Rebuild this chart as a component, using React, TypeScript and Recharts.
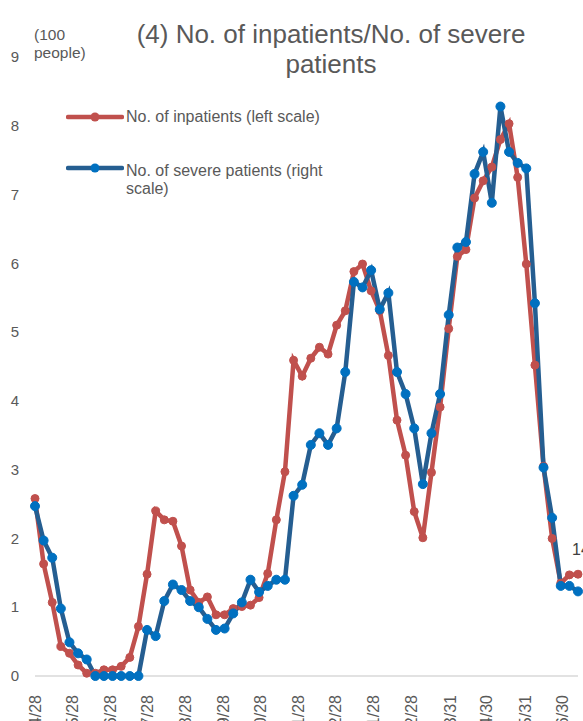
import React from "react";
import {
  LineChart,
  Line,
  XAxis,
  YAxis,
} from "recharts";

// colours
const COLORS = {
  inpatients: "#C0504D",
  severeLine: "#255E91",
  severeDot: "#0070C0",
  text: "#595959",
  axis: "#D9D9D9",
};

const FONT = '"Liberation Sans", Arial, sans-serif';

// weekly reporting dates
const weeks = [
  "2020-04-28", "2020-05-05", "2020-05-12", "2020-05-19", "2020-05-26",
  "2020-06-02", "2020-06-09", "2020-06-16", "2020-06-23", "2020-06-30",
  "2020-07-07", "2020-07-14", "2020-07-21", "2020-07-28", "2020-08-04",
  "2020-08-11", "2020-08-18", "2020-08-25", "2020-09-01", "2020-09-08",
  "2020-09-15", "2020-09-22", "2020-09-29", "2020-10-06", "2020-10-13",
  "2020-10-20", "2020-10-27", "2020-11-03", "2020-11-10", "2020-11-17",
  "2020-11-24", "2020-12-01", "2020-12-08", "2020-12-15", "2020-12-22",
  "2020-12-29", "2021-01-05", "2021-01-12", "2021-01-19", "2021-01-26",
  "2021-02-02", "2021-02-09", "2021-02-16", "2021-02-23", "2021-03-02",
  "2021-03-09", "2021-03-16", "2021-03-23", "2021-03-30", "2021-04-06",
  "2021-04-13", "2021-04-20", "2021-04-27", "2021-05-04", "2021-05-11",
  "2021-05-18", "2021-05-25", "2021-06-01", "2021-06-08", "2021-06-15",
  "2021-06-22", "2021-06-29", "2021-07-06", "2021-07-13",
];

// inpatients (left scale, 100 people)
const inpatients = [
  2.58, 1.63, 1.07, 0.43, 0.33, 0.16, 0.04, 0.04, 0.09, 0.09,
  0.14, 0.27, 0.72, 1.48, 2.40, 2.27, 2.25, 1.89, 1.25, 1.07,
  1.15, 0.89, 0.89, 0.98, 1.01, 1.03, 1.14, 1.49, 2.27, 2.97,
  4.59, 4.36, 4.62, 4.78, 4.68, 5.10, 5.31, 5.88, 5.99, 5.60,
  5.31, 4.66, 3.72, 3.21, 2.39, 2.01, 2.96, 3.91, 5.05, 6.10,
  6.20, 6.95, 7.20, 7.40, 7.80, 8.03, 7.25, 5.99, 4.52, 3.05,
  2.00, 1.35, 1.47, 1.48,
];

// severe patients (right scale, people)
const severe = [
  24.7, 19.7, 17.2, 9.8, 4.9, 3.3, 2.4, 0, 0, 0,
  0, 0, 0, 6.7, 5.8, 10.9, 13.3, 12.5, 10.9, 10.0,
  8.3, 6.7, 6.9, 9.1, 10.7, 14.0, 12.2, 13.1, 14.0, 14.0,
  26.2, 27.8, 33.6, 35.3, 33.6, 36.0, 44.2, 57.3, 56.5, 59.0,
  53.3, 55.7, 44.2, 41.0, 36.0, 27.9, 35.3, 41.0, 52.5, 62.3,
  63.1, 73.0, 76.2, 68.8, 82.8, 76.2, 74.6, 73.8, 54.2, 30.3,
  23.0, 13.1, 13.1, 12.3,
];

const tickDates = [
  "2020-04-28", "2020-05-28", "2020-06-28", "2020-07-28", "2020-08-28",
  "2020-09-28", "2020-10-28", "2020-11-28", "2020-12-28", "2021-01-28",
  "2021-02-28", "2021-03-31", "2021-04-30", "2021-05-31", "2021-06-30",
];
const tickLabels = [
  "4/28", "5/28", "6/28", "7/28", "8/28", "9/28", "10/28", "11/28",
  "12/28", "1/28", "2/28", "3/31", "4/30", "5/31", "6/30",
];

const leftTicks = [0, 1, 2, 3, 4, 5, 6, 7, 8, 9];
const lastLabel = "148";

const DAY = 24 * 60 * 60 * 1000;
const start = Date.parse(weeks[0]);
const toDay = (d: string) => Math.round((Date.parse(d) - start) / DAY);

const data = weeks.map((w, i) => ({
  day: toDay(w),
  inpatients: inpatients[i],
  severe: severe[i],
}));
const xTicks = tickDates.map(toDay);
const lastDay = toDay(weeks[weeks.length - 1]);

const XTick = ({ x, y, payload }: any) => {
  const idx = xTicks.indexOf(payload.value);
  return (
    <g transform={`translate(${x},${y + 11}) rotate(-90)`}>
      <text textAnchor="end" dy="0.35em" fill={COLORS.text} fontSize={16} fontFamily={FONT}>
        {tickLabels[idx]}
      </text>
    </g>
  );
};

const YTick = ({ y, payload }: any) => (
  <text x={15} y={y} textAnchor="middle" dy="0.35em" fill={COLORS.text} fontSize={15} fontFamily={FONT}>
    {payload.value}
  </text>
);

const LastLabel = ({ x, y, index }: any) => {
  if (index !== inpatients.length - 1) return null;
  return (
    <text x={x - 6} y={y - 25} dy="0.35em" fill="#404040" fontSize={16} fontFamily={FONT}>
      {lastLabel}
    </text>
  );
};

const LegendSample = ({ line, dot }: { line: string; dot: string }) => (
  <svg width={58} height={12} style={{ flex: "none", display: "block" }}>
    <line x1={2} y1={6} x2={56} y2={6} stroke={line} strokeWidth={4.5} strokeLinecap="round" />
    <circle cx={29} cy={6} r={4.5} fill={dot} />
  </svg>
);

// legend drawn as an overlay so it does not shrink the plot area
const ChartLegend = () => (
  <div
    style={{
      position: "absolute",
      left: 66,
      top: 108,
      fontFamily: FONT,
      fontSize: 16,
      color: COLORS.text,
      lineHeight: "18px",
    }}
  >
    <div style={{ display: "flex", alignItems: "flex-start" }}>
      <div style={{ marginTop: 3 }}>
        <LegendSample line={COLORS.inpatients} dot={COLORS.inpatients} />
      </div>
      <div style={{ marginLeft: 2, width: 210 }}>No. of inpatients (left scale)</div>
    </div>
    <div style={{ display: "flex", alignItems: "flex-start", marginTop: 36 }}>
      <div style={{ marginTop: 0 }}>
        <LegendSample line={COLORS.severeLine} dot={COLORS.severeDot} />
      </div>
      <div style={{ marginLeft: 2, width: 210 }}>No. of severe patients (right scale)</div>
    </div>
  </div>
);

export default function App() {
  return (
    <div
      style={{
        position: "absolute",
        left: 0,
        top: 0,
        width: 583,
        height: 721,
        overflow: "hidden",
        background: "#fff",
        fontFamily: FONT,
      }}
    >
      <LineChart
        width={583}
        height={721}
        data={data}
        margin={{ top: 57, right: 5, bottom: 0, left: 0 }}
      >
        <XAxis
          dataKey="day"
          type="number"
          domain={[0, lastDay]}
          ticks={xTicks}
          interval={0}
          tick={<XTick />}
          tickLine={false}
          axisLine={{ stroke: COLORS.axis, strokeWidth: 1.5 }}
          height={45}
        />
        <YAxis
          yAxisId="left"
          domain={[0, 9]}
          ticks={leftTicks}
          interval={0}
          tick={<YTick />}
          tickLine={false}
          axisLine={false}
          width={35}
        />
        <YAxis yAxisId="right" orientation="right" domain={[0, 90]} hide />
        <Line
          yAxisId="left"
          type="linear"
          dataKey="inpatients"
          name="No. of inpatients (left scale)"
          stroke={COLORS.inpatients}
          strokeWidth={4.5}
          dot={{ r: 4, fill: COLORS.inpatients, stroke: COLORS.inpatients, strokeWidth: 1 }}
          label={<LastLabel />}
          isAnimationActive={false}
        />
        <Line
          yAxisId="right"
          type="linear"
          dataKey="severe"
          name="No. of severe patients (right scale)"
          stroke={COLORS.severeLine}
          strokeWidth={4.5}
          dot={{ r: 4.5, fill: COLORS.severeDot, stroke: COLORS.severeDot, strokeWidth: 1 }}
          isAnimationActive={false}
        />
      </LineChart>
      <div
        style={{
          position: "absolute",
          left: 126,
          top: 19,
          width: 410,
          textAlign: "center",
          fontSize: 26,
          lineHeight: "30px",
          color: COLORS.text,
        }}
      >
        (4) No. of inpatients/No. of severe patients
      </div>
      <div
        style={{
          position: "absolute",
          left: 34,
          top: 26,
          fontSize: 15.5,
          lineHeight: "18px",
          color: COLORS.text,
        }}
      >
        (100
        <br />
        people)
      </div>
      <ChartLegend />
    </div>
  );
}
